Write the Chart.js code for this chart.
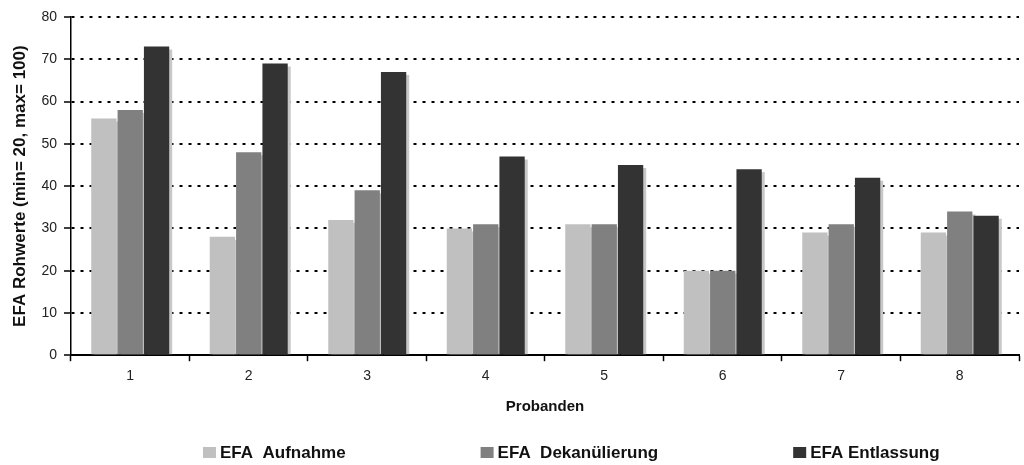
<!DOCTYPE html>
<html>
<head>
<meta charset="utf-8">
<script src="https://cdn.jsdelivr.net/npm/chart.js@4.4.1/dist/chart.umd.min.js"></script>
<style>
  html, body { margin: 0; padding: 0; background: #fff; }
  canvas { display: block; }
</style>
</head>
<body>
<canvas id="grafico" width="1024" height="465"></canvas>
<script>
// Daten
const probanden = ['1', '2', '3', '4', '5', '6', '7', '8'];
const aufnahme = [56, 28, 32, 30, 31, 20, 29, 29];
const dekanuelierung = [58, 48, 39, 31, 31, 20, 31, 34];
const entlassung = [73, 69, 67, 47, 45, 44, 42, 33];
const yTicks = [0, 10, 20, 30, 40, 50, 60, 70, 80];

const schrift = '"Liberation Sans", Arial, Helvetica, sans-serif';

// Schatten hinter den Balken (versetzt nach rechts unten)
const schattenPlugin = {
    id: 'schatten',
    beforeDatasetsDraw(chart) {
        const ctx = chart.ctx;
        const area = chart.chartArea;
        ctx.save();
        ctx.beginPath();
        ctx.rect(area.left, area.top, area.right - area.left, area.bottom - area.top);
        ctx.clip();
        ctx.fillStyle = '#c8c8c8';
        chart.data.datasets.forEach((ds, i) => {
            chart.getDatasetMeta(i).data.forEach(bar => {
                const p = bar.getProps(['x', 'y', 'base', 'width'], true);
                ctx.fillRect(p.x - p.width / 2 + 3, p.y + 3, p.width, p.base - p.y - 3);
            });
        });
        ctx.restore();
    }
};

// Legende unten, eigene Abstände wie im Original
const legendePlugin = {
    id: 'legende',
    afterDraw(chart) {
        const ctx = chart.ctx;
        const abstand = 135;
        const y = chart.height - 12;
        let x = chart.chartArea.left + 132;
        ctx.save();
        ctx.font = 'bold 17px ' + schrift;
        ctx.textBaseline = 'middle';
        ctx.textAlign = 'left';
        chart.data.datasets.forEach(ds => {
            ctx.fillStyle = ds.backgroundColor;
            ctx.fillRect(x, y - 6, 13, 11);
            ctx.fillStyle = '#111';
            ctx.fillText(ds.label, x + 17, y);
            x += 17 + ctx.measureText(ds.label).width + abstand;
        });
        ctx.restore();
    }
};

const ctx = document.getElementById('grafico').getContext('2d');
const grafico = new Chart(ctx, {
    type: 'bar',
    data: {
        labels: probanden,
        datasets: [
            { label: 'EFA  Aufnahme', data: aufnahme, backgroundColor: '#c0c0c0' },
            { label: 'EFA  Dekanülierung', data: dekanuelierung, backgroundColor: '#808080' },
            { label: 'EFA Entlassung', data: entlassung, backgroundColor: '#333333' }
        ]
    },
    options: {
        responsive: false,
        animation: false,
        devicePixelRatio: 1,
        layout: { padding: { top: 17, right: 5, bottom: 49, left: 0 } },
        datasets: {
            bar: { categoryPercentage: 0.667, barPercentage: 0.96, borderWidth: 0 }
        },
        scales: {
            x: {
                grid: {
                    drawOnChartArea: false,
                    drawTicks: true,
                    tickLength: 6,
                    tickColor: '#000',
                    tickWidth: 1.5,
                    offset: true
                },
                border: { display: true, color: '#000', width: 2 },
                ticks: { color: '#222', font: { family: schrift, size: 14 }, padding: 7 },
                title: {
                    display: true,
                    text: 'Probanden',
                    color: '#111',
                    font: { family: schrift, size: 15, weight: 'bold' },
                    padding: { top: 6, bottom: 0 }
                }
            },
            y: {
                min: 0,
                max: 80,
                afterBuildTicks: axis => { axis.ticks = yTicks.map(v => ({ value: v })); },
                grid: {
                    color: '#000',
                    lineWidth: 2,
                    drawTicks: true,
                    tickLength: 7,
                    tickColor: '#000',
                    tickWidth: 1.5,
                    tickBorderDash: []
                },
                border: { display: true, color: '#000', width: 1.5, dash: [3, 6] },
                ticks: { color: '#222', font: { family: schrift, size: 14 }, padding: 7 },
                title: {
                    display: true,
                    text: 'EFA Rohwerte (min= 20, max= 100)',
                    color: '#111',
                    font: { family: schrift, size: 17, weight: 'bold' },
                    padding: { top: 10, bottom: 4 }
                }
            }
        },
        plugins: {
            legend: { display: false },
            tooltip: { enabled: false }
        }
    },
    plugins: [schattenPlugin, legendePlugin]
});
</script>
</body>
</html>
